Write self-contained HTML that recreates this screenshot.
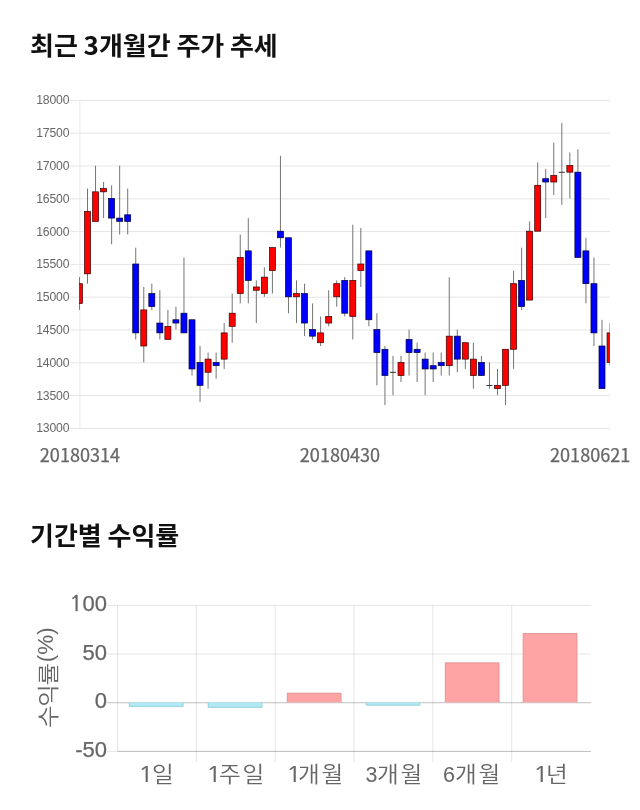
<!DOCTYPE html>
<html lang="ko"><head><meta charset="utf-8"><title>최근 3개월간 주가 추세</title>
<style>
html,body{margin:0;padding:0;background:#fff;}
body{width:640px;height:810px;position:relative;overflow:hidden;font-family:"Liberation Sans","Noto Sans CJK KR",sans-serif;}
h2{position:absolute;margin:0;left:30px;white-space:nowrap;font-family:"Noto Sans CJK KR","Liberation Sans",sans-serif;font-weight:700;font-size:25px;line-height:36px;color:#111;letter-spacing:0;transform-origin:0 50%;transform:scaleX(1.04);word-spacing:-1.5px;}
#h1{top:26px;}#h2{top:516px;}
svg{position:absolute;left:0;top:0;}
.yl{font-family:"Liberation Sans",sans-serif;font-size:12.2px;letter-spacing:-0.15px;fill:#666;text-anchor:end;}
.xl{font-family:"Noto Sans CJK KR","Liberation Sans",sans-serif;font-size:18.1px;fill:#666;stroke:#666;stroke-width:0.25px;text-anchor:middle;}
.bl{font-family:"Liberation Sans","Noto Sans CJK KR",sans-serif;font-size:22px;font-weight:400;fill:#666;stroke:#666;stroke-width:0.25px;}
.bx,.by{position:absolute;white-space:nowrap;font-family:"Liberation Sans","Noto Sans CJK KR",sans-serif;font-size:21.5px;line-height:26px;color:#666;}
.k{display:inline-block;font-family:"Noto Sans CJK KR","Liberation Sans",sans-serif;font-weight:350;letter-spacing:1.5px;transform-origin:0 50%;transform:scaleX(1.1);}
.by{left:33.5px;top:727.6px;transform-origin:0 0;transform:rotate(-90deg);}
.by .k{margin-right:9.8px;letter-spacing:-1.1px;transform:scaleX(1.14);}.by .p{position:relative;top:-2.6px;font-size:22.5px;}
.n1{font-family:"NanumGothic","Liberation Sans",sans-serif;font-weight:400;-webkit-text-stroke:0.4px #666;stroke:#666;stroke-width:0.4px;}
.bx .n1{display:inline-block;transform-origin:100% 50%;transform:scaleX(1.25);position:relative;left:2.9px;-webkit-text-stroke:0.15px #666;}
</style></head><body>
<h2 id="h1">최근 3개월간 주가 추세</h2>
<h2 id="h2">기간별 수익률</h2>
<svg width="640" height="810" viewBox="0 0 640 810">
<defs><clipPath id="cp"><rect x="79" y="99" width="531.1" height="331"/></clipPath></defs>
<g>
<rect x="69.4" y="99.9" width="540.6" height="1" fill="#e5e5e5"/>
<rect x="69.4" y="132.7" width="540.6" height="1" fill="#e5e5e5"/>
<rect x="69.4" y="165.5" width="540.6" height="1" fill="#e5e5e5"/>
<rect x="69.4" y="198.3" width="540.6" height="1" fill="#e5e5e5"/>
<rect x="69.4" y="231.1" width="540.6" height="1" fill="#e5e5e5"/>
<rect x="69.4" y="263.9" width="540.6" height="1" fill="#e5e5e5"/>
<rect x="69.4" y="296.7" width="540.6" height="1" fill="#e5e5e5"/>
<rect x="69.4" y="329.5" width="540.6" height="1" fill="#e5e5e5"/>
<rect x="69.4" y="362.3" width="540.6" height="1" fill="#e5e5e5"/>
<rect x="69.4" y="395.1" width="540.6" height="1" fill="#e5e5e5"/>
<rect x="69.4" y="427.9" width="540.6" height="1" fill="#e5e5e5"/>
<rect x="79.4" y="100" width="1" height="328.9" fill="#e9e9e9"/>
</g>
<text class="yl" x="69.3" y="104.4">18000</text>
<text class="yl" x="69.3" y="137.2">17500</text>
<text class="yl" x="69.3" y="170">17000</text>
<text class="yl" x="69.3" y="202.8">16500</text>
<text class="yl" x="69.3" y="235.6">16000</text>
<text class="yl" x="69.3" y="268.4">15500</text>
<text class="yl" x="69.3" y="301.2">15000</text>
<text class="yl" x="69.3" y="334">14500</text>
<text class="yl" x="69.3" y="366.8">14000</text>
<text class="yl" x="69.3" y="399.6">13500</text>
<text class="yl" x="69.3" y="432.4">13000</text>
<g clip-path="url(#cp)">
<rect x="78.96" y="277.12" width="1" height="32.8" fill="#757575"/>
<rect x="76.46" y="283.68" width="6" height="19.68" fill="#ff0000" stroke="#380000" stroke-width="0.7"/>
<rect x="87" y="188.56" width="1" height="95.12" fill="#757575"/>
<rect x="84.5" y="211.52" width="6" height="62.32" fill="#ff0000" stroke="#380000" stroke-width="0.7"/>
<rect x="95.04" y="165.6" width="1" height="55.76" fill="#757575"/>
<rect x="92.54" y="191.84" width="6" height="29.52" fill="#ff0000" stroke="#380000" stroke-width="0.7"/>
<rect x="103.08" y="182" width="1" height="36.08" fill="#757575"/>
<rect x="100.58" y="188.56" width="6" height="3.28" fill="#ff0000" stroke="#380000" stroke-width="0.7"/>
<rect x="111.12" y="185.28" width="1" height="59.04" fill="#757575"/>
<rect x="108.62" y="198.4" width="6" height="19.68" fill="#0000ff" stroke="#000038" stroke-width="0.7"/>
<rect x="119.16" y="165.6" width="1" height="68.88" fill="#757575"/>
<rect x="116.66" y="218.08" width="6" height="3.28" fill="#0000ff" stroke="#000038" stroke-width="0.7"/>
<rect x="127.19" y="188.56" width="1" height="45.92" fill="#757575"/>
<rect x="124.69" y="214.8" width="6" height="6.56" fill="#0000ff" stroke="#000038" stroke-width="0.7"/>
<rect x="135.23" y="247.6" width="1" height="91.84" fill="#757575"/>
<rect x="132.73" y="264" width="6" height="68.88" fill="#0000ff" stroke="#000038" stroke-width="0.7"/>
<rect x="143.27" y="286.96" width="1" height="75.44" fill="#757575"/>
<rect x="140.77" y="309.92" width="6" height="36.08" fill="#ff0000" stroke="#380000" stroke-width="0.7"/>
<rect x="151.31" y="283.68" width="1" height="26.24" fill="#757575"/>
<rect x="148.81" y="293.52" width="6" height="13.12" fill="#0000ff" stroke="#000038" stroke-width="0.7"/>
<rect x="159.35" y="290.24" width="1" height="49.2" fill="#757575"/>
<rect x="156.85" y="323.04" width="6" height="9.84" fill="#0000ff" stroke="#000038" stroke-width="0.7"/>
<rect x="167.39" y="309.92" width="1" height="29.52" fill="#757575"/>
<rect x="164.89" y="326.32" width="6" height="13.12" fill="#ff0000" stroke="#380000" stroke-width="0.7"/>
<rect x="175.43" y="306.64" width="1" height="22.96" fill="#757575"/>
<rect x="172.93" y="319.76" width="6" height="3.28" fill="#0000ff" stroke="#000038" stroke-width="0.7"/>
<rect x="183.47" y="257.44" width="1" height="75.44" fill="#757575"/>
<rect x="180.97" y="313.2" width="6" height="19.68" fill="#0000ff" stroke="#000038" stroke-width="0.7"/>
<rect x="191.51" y="319.76" width="1" height="55.76" fill="#757575"/>
<rect x="189.01" y="319.76" width="6" height="49.2" fill="#0000ff" stroke="#000038" stroke-width="0.7"/>
<rect x="199.54" y="346" width="1" height="55.76" fill="#757575"/>
<rect x="197.04" y="362.4" width="6" height="22.96" fill="#0000ff" stroke="#000038" stroke-width="0.7"/>
<rect x="207.58" y="352.56" width="1" height="36.08" fill="#757575"/>
<rect x="205.08" y="359.12" width="6" height="13.12" fill="#ff0000" stroke="#380000" stroke-width="0.7"/>
<rect x="215.62" y="352.56" width="1" height="26.24" fill="#757575"/>
<rect x="213.12" y="362.4" width="6" height="3.28" fill="#0000ff" stroke="#000038" stroke-width="0.7"/>
<rect x="223.66" y="323.04" width="1" height="45.92" fill="#757575"/>
<rect x="221.16" y="332.88" width="6" height="26.24" fill="#ff0000" stroke="#380000" stroke-width="0.7"/>
<rect x="231.7" y="293.52" width="1" height="49.2" fill="#757575"/>
<rect x="229.2" y="313.2" width="6" height="13.12" fill="#ff0000" stroke="#380000" stroke-width="0.7"/>
<rect x="239.74" y="234.48" width="1" height="68.88" fill="#757575"/>
<rect x="237.24" y="257.44" width="6" height="36.08" fill="#ff0000" stroke="#380000" stroke-width="0.7"/>
<rect x="247.78" y="218.08" width="1" height="85.28" fill="#757575"/>
<rect x="245.28" y="250.88" width="6" height="29.52" fill="#0000ff" stroke="#000038" stroke-width="0.7"/>
<rect x="255.82" y="280.4" width="1" height="42.64" fill="#757575"/>
<rect x="253.32" y="286.96" width="6" height="3.28" fill="#ff0000" stroke="#380000" stroke-width="0.7"/>
<rect x="263.86" y="267.28" width="1" height="29.52" fill="#757575"/>
<rect x="261.36" y="277.12" width="6" height="16.4" fill="#ff0000" stroke="#380000" stroke-width="0.7"/>
<rect x="271.9" y="247.6" width="1" height="45.92" fill="#757575"/>
<rect x="269.4" y="247.6" width="6" height="22.96" fill="#ff0000" stroke="#380000" stroke-width="0.7"/>
<rect x="279.94" y="155.76" width="1" height="91.84" fill="#757575"/>
<rect x="277.44" y="231.2" width="6" height="6.56" fill="#0000ff" stroke="#000038" stroke-width="0.7"/>
<rect x="287.97" y="237.76" width="1" height="75.44" fill="#757575"/>
<rect x="285.47" y="237.76" width="6" height="59.04" fill="#0000ff" stroke="#000038" stroke-width="0.7"/>
<rect x="296.01" y="280.4" width="1" height="42.64" fill="#757575"/>
<rect x="293.51" y="293.52" width="6" height="3.28" fill="#ff0000" stroke="#380000" stroke-width="0.7"/>
<rect x="304.05" y="283.68" width="1" height="52.48" fill="#757575"/>
<rect x="301.55" y="293.52" width="6" height="29.52" fill="#0000ff" stroke="#000038" stroke-width="0.7"/>
<rect x="312.09" y="303.36" width="1" height="36.08" fill="#757575"/>
<rect x="309.59" y="329.6" width="6" height="6.56" fill="#0000ff" stroke="#000038" stroke-width="0.7"/>
<rect x="320.13" y="316.48" width="1" height="29.52" fill="#757575"/>
<rect x="317.63" y="332.88" width="6" height="9.84" fill="#ff0000" stroke="#380000" stroke-width="0.7"/>
<rect x="328.17" y="290.24" width="1" height="36.08" fill="#757575"/>
<rect x="325.67" y="316.48" width="6" height="6.56" fill="#ff0000" stroke="#380000" stroke-width="0.7"/>
<rect x="336.21" y="280.4" width="1" height="26.24" fill="#757575"/>
<rect x="333.71" y="283.68" width="6" height="13.12" fill="#ff0000" stroke="#380000" stroke-width="0.7"/>
<rect x="344.25" y="277.12" width="1" height="39.36" fill="#757575"/>
<rect x="341.75" y="280.4" width="6" height="32.8" fill="#0000ff" stroke="#000038" stroke-width="0.7"/>
<rect x="352.29" y="224.64" width="1" height="114.8" fill="#757575"/>
<rect x="349.79" y="280.4" width="6" height="36.08" fill="#ff0000" stroke="#380000" stroke-width="0.7"/>
<rect x="360.32" y="227.92" width="1" height="59.04" fill="#757575"/>
<rect x="357.82" y="264" width="6" height="6.56" fill="#ff0000" stroke="#380000" stroke-width="0.7"/>
<rect x="368.36" y="250.88" width="1" height="75.44" fill="#757575"/>
<rect x="365.86" y="250.88" width="6" height="68.88" fill="#0000ff" stroke="#000038" stroke-width="0.7"/>
<rect x="376.4" y="313.2" width="1" height="72.16" fill="#757575"/>
<rect x="373.9" y="329.6" width="6" height="22.96" fill="#0000ff" stroke="#000038" stroke-width="0.7"/>
<rect x="384.44" y="346" width="1" height="59.04" fill="#757575"/>
<rect x="381.94" y="349.28" width="6" height="26.24" fill="#0000ff" stroke="#000038" stroke-width="0.7"/>
<rect x="392.48" y="355.84" width="1" height="39.36" fill="#757575"/>
<rect x="389.98" y="371.84" width="6" height="1" fill="#333333"/>
<rect x="400.52" y="355.84" width="1" height="26.24" fill="#757575"/>
<rect x="398.02" y="362.4" width="6" height="13.12" fill="#ff0000" stroke="#380000" stroke-width="0.7"/>
<rect x="408.56" y="329.6" width="1" height="45.92" fill="#757575"/>
<rect x="406.06" y="339.44" width="6" height="13.12" fill="#0000ff" stroke="#000038" stroke-width="0.7"/>
<rect x="416.6" y="342.72" width="1" height="39.36" fill="#757575"/>
<rect x="414.1" y="349.28" width="6" height="3.28" fill="#0000ff" stroke="#000038" stroke-width="0.7"/>
<rect x="424.64" y="352.56" width="1" height="42.64" fill="#757575"/>
<rect x="422.14" y="359.12" width="6" height="9.84" fill="#0000ff" stroke="#000038" stroke-width="0.7"/>
<rect x="432.68" y="352.56" width="1" height="29.52" fill="#757575"/>
<rect x="430.18" y="365.68" width="6" height="3.28" fill="#0000ff" stroke="#000038" stroke-width="0.7"/>
<rect x="440.71" y="352.56" width="1" height="22.96" fill="#757575"/>
<rect x="438.21" y="362.4" width="6" height="3.28" fill="#0000ff" stroke="#000038" stroke-width="0.7"/>
<rect x="448.75" y="277.12" width="1" height="98.4" fill="#757575"/>
<rect x="446.25" y="336.16" width="6" height="29.52" fill="#ff0000" stroke="#380000" stroke-width="0.7"/>
<rect x="456.79" y="329.6" width="1" height="42.64" fill="#757575"/>
<rect x="454.29" y="336.16" width="6" height="22.96" fill="#0000ff" stroke="#000038" stroke-width="0.7"/>
<rect x="464.83" y="342.72" width="1" height="26.24" fill="#757575"/>
<rect x="462.33" y="342.72" width="6" height="16.4" fill="#ff0000" stroke="#380000" stroke-width="0.7"/>
<rect x="472.87" y="342.72" width="1" height="45.92" fill="#757575"/>
<rect x="470.37" y="359.12" width="6" height="16.4" fill="#ff0000" stroke="#380000" stroke-width="0.7"/>
<rect x="480.91" y="355.84" width="1" height="19.68" fill="#757575"/>
<rect x="478.41" y="362.4" width="6" height="13.12" fill="#0000ff" stroke="#000038" stroke-width="0.7"/>
<rect x="488.95" y="362.4" width="1" height="26.24" fill="#757575"/>
<rect x="486.45" y="384.96" width="6" height="1" fill="#333333"/>
<rect x="496.99" y="368.96" width="1" height="26.24" fill="#757575"/>
<rect x="494.49" y="385.36" width="6" height="3.28" fill="#ff0000" stroke="#380000" stroke-width="0.7"/>
<rect x="505.03" y="349.28" width="1" height="55.76" fill="#757575"/>
<rect x="502.53" y="349.28" width="6" height="36.08" fill="#ff0000" stroke="#380000" stroke-width="0.7"/>
<rect x="513.07" y="270.56" width="1" height="98.4" fill="#757575"/>
<rect x="510.57" y="283.68" width="6" height="65.6" fill="#ff0000" stroke="#380000" stroke-width="0.7"/>
<rect x="521.11" y="247.6" width="1" height="62.32" fill="#757575"/>
<rect x="518.61" y="280.4" width="6" height="26.24" fill="#0000ff" stroke="#000038" stroke-width="0.7"/>
<rect x="529.14" y="221.36" width="1" height="78.72" fill="#757575"/>
<rect x="526.64" y="231.2" width="6" height="68.88" fill="#ff0000" stroke="#380000" stroke-width="0.7"/>
<rect x="537.18" y="162.32" width="1" height="68.88" fill="#757575"/>
<rect x="534.68" y="185.28" width="6" height="45.92" fill="#ff0000" stroke="#380000" stroke-width="0.7"/>
<rect x="545.22" y="168.88" width="1" height="49.2" fill="#757575"/>
<rect x="542.72" y="178.72" width="6" height="3.28" fill="#0000ff" stroke="#000038" stroke-width="0.7"/>
<rect x="553.26" y="142.64" width="1" height="52.48" fill="#757575"/>
<rect x="550.76" y="175.44" width="6" height="6.56" fill="#ff0000" stroke="#380000" stroke-width="0.7"/>
<rect x="561.3" y="122.96" width="1" height="82" fill="#757575"/>
<rect x="558.8" y="171.76" width="6" height="1" fill="#333333"/>
<rect x="569.34" y="152.48" width="1" height="45.92" fill="#757575"/>
<rect x="566.84" y="165.6" width="6" height="6.56" fill="#ff0000" stroke="#380000" stroke-width="0.7"/>
<rect x="577.38" y="149.2" width="1" height="108.24" fill="#757575"/>
<rect x="574.88" y="172.16" width="6" height="85.28" fill="#0000ff" stroke="#000038" stroke-width="0.7"/>
<rect x="585.42" y="237.76" width="1" height="65.6" fill="#757575"/>
<rect x="582.92" y="250.88" width="6" height="32.8" fill="#0000ff" stroke="#000038" stroke-width="0.7"/>
<rect x="593.46" y="257.44" width="1" height="88.56" fill="#757575"/>
<rect x="590.96" y="283.68" width="6" height="49.2" fill="#0000ff" stroke="#000038" stroke-width="0.7"/>
<rect x="601.5" y="319.76" width="1" height="68.88" fill="#757575"/>
<rect x="599" y="346" width="6" height="42.64" fill="#0000ff" stroke="#000038" stroke-width="0.7"/>
<rect x="609.53" y="323.04" width="1" height="42.64" fill="#757575"/>
<rect x="607.03" y="332.88" width="6" height="29.52" fill="#ff0000" stroke="#380000" stroke-width="0.7"/>
</g>
<text class="xl" x="80" y="461.5">20180314</text>
<text class="xl" x="340" y="461.5">20180430</text>
<text class="xl" x="590.2" y="461.5">20180621</text>
<g fill="none" stroke-width="1">
<line x1="117.5" y1="605.4" x2="117.5" y2="751.4" stroke="rgba(0,0,0,0.1)"/>
<line x1="196.35" y1="605.4" x2="196.35" y2="761.9" stroke="rgba(0,0,0,0.1)"/>
<line x1="275.2" y1="605.4" x2="275.2" y2="761.9" stroke="rgba(0,0,0,0.1)"/>
<line x1="354.05" y1="605.4" x2="354.05" y2="761.9" stroke="rgba(0,0,0,0.1)"/>
<line x1="432.9" y1="605.4" x2="432.9" y2="761.9" stroke="rgba(0,0,0,0.1)"/>
<line x1="511.75" y1="605.4" x2="511.75" y2="761.9" stroke="rgba(0,0,0,0.1)"/>
<line x1="106.5" y1="605.4" x2="590.8" y2="605.4" stroke="rgba(0,0,0,0.1)"/>
<line x1="106.5" y1="654.07" x2="590.8" y2="654.07" stroke="rgba(0,0,0,0.1)"/>
<line x1="106.5" y1="702.73" x2="590.8" y2="702.73" stroke="rgba(0,0,0,0.25)"/>
<line x1="106.5" y1="751.4" x2="117.5" y2="751.4" stroke="rgba(0,0,0,0.1)"/>
<line x1="117.5" y1="751.4" x2="590.8" y2="751.4" stroke="rgba(0,0,0,0.27)"/>
</g>
<rect x="128.9" y="702.33" width="54.5" height="4.67" fill="#afe9f4"/>
<path d="M129.4 702.33 L129.4 706.5 L182.9 706.5 L182.9 702.33" fill="none" stroke="#9fd3dd" stroke-width="1"/>
<rect x="207.8" y="702.33" width="54.5" height="5.47" fill="#afe9f4"/>
<path d="M208.3 702.33 L208.3 707.3 L261.8 707.3 L261.8 702.33" fill="none" stroke="#9fd3dd" stroke-width="1"/>
<rect x="286.9" y="692.8" width="54.5" height="9.53" fill="#ffa4a4"/>
<path d="M287.4 702.33 L287.4 693.3 L340.9 693.3 L340.9 702.33" fill="none" stroke="#e49b9b" stroke-width="1"/>
<rect x="365.75" y="702.33" width="54.5" height="3.27" fill="#afe9f4"/>
<path d="M366.25 702.33 L366.25 705.1 L419.75 705.1 L419.75 702.33" fill="none" stroke="#9fd3dd" stroke-width="1"/>
<rect x="444.9" y="662.5" width="54.5" height="39.83" fill="#ffa4a4"/>
<path d="M445.4 702.33 L445.4 663 L498.9 663 L498.9 702.33" fill="none" stroke="#e49b9b" stroke-width="1"/>
<rect x="522.8" y="633" width="54.5" height="69.33" fill="#ffa4a4"/>
<path d="M523.3 702.33 L523.3 633.5 L576.8 633.5 L576.8 702.33" fill="none" stroke="#e49b9b" stroke-width="1"/>
<text class="bl" text-anchor="end" x="107" y="610.9"><tspan class="n1">1</tspan>00</text>
<text class="bl" text-anchor="end" x="107" y="659.57">50</text>
<text class="bl" text-anchor="end" x="107" y="708.23">0</text>
<text class="bl" text-anchor="end" x="107" y="756.9">-50</text>
</svg>
<div class="bx" style="left:138.3px;top:760px"><span class="n1">1</span><span class="k" style="margin-left:0.4px">일</span></div>
<div class="bx" style="left:206.5px;top:760px"><span class="n1">1</span><span class="k" style="margin-left:-0.4px">주일</span></div>
<div class="bx" style="left:286.5px;top:760px"><span class="n1">1</span><span class="k" style="margin-left:-1.4px">개월</span></div>
<div class="bx" style="left:365.5px;top:760px">3<span class="k" style="margin-left:-0.8px">개월</span></div>
<div class="bx" style="left:443px;top:760px">6<span class="k" style="margin-left:0.3px">개월</span></div>
<div class="bx" style="left:532.8px;top:760px"><span class="n1">1</span><span class="k" style="margin-left:0.6px">년</span></div>
<div class="by"><span class="k">수익률</span><span class="p">(%)</span></div>
</body></html>
